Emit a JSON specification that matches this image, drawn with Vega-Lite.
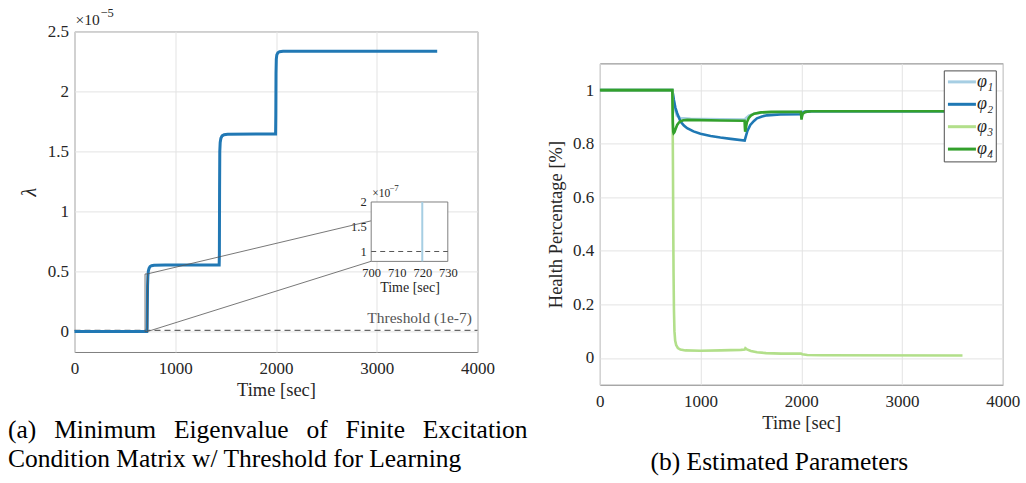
{
  "$schema": "https://vega.github.io/schema/vega-lite/v6.json",
  "padding": {"left": 7.5, "top": 6.4, "right": 0, "bottom": 0},
  "autosize": {"type": "pad"},
  "background": "white",
  "bounds": "flush",
  "spacing": 122.3,
  "resolve": {"legend": {"color": "independent"}},
  "datasets": {
    "lam": [
      {"t": 0, "v": 0}, {"t": 718, "v": 0}, {"t": 721, "v": 0.03}, {"t": 723, "v": 0.2}, {"t": 725, "v": 0.38},
      {"t": 728, "v": 0.46}, {"t": 733, "v": 0.505}, {"t": 740, "v": 0.527}, {"t": 750, "v": 0.542}, {"t": 765, "v": 0.549},
      {"t": 790, "v": 0.553}, {"t": 900, "v": 0.554}, {"t": 1436, "v": 0.555}, {"t": 1438, "v": 0.65}, {"t": 1440, "v": 1.2},
      {"t": 1442, "v": 1.5}, {"t": 1446, "v": 1.575}, {"t": 1453, "v": 1.61}, {"t": 1465, "v": 1.63}, {"t": 1485, "v": 1.64},
      {"t": 1520, "v": 1.644}, {"t": 1996, "v": 1.645}, {"t": 1998, "v": 1.8}, {"t": 2000, "v": 2.15}, {"t": 2003, "v": 2.27},
      {"t": 2008, "v": 2.305}, {"t": 2018, "v": 2.322}, {"t": 2035, "v": 2.33}, {"t": 2070, "v": 2.334}, {"t": 3600, "v": 2.334}
    ],
    "thr": [{"t": 0, "v": 0.01}, {"t": 4000, "v": 0.01}],
    "zbox": [{"t": 700, "t2": 725, "v": 0, "v2": 0.48}],
    "zlines": [{"t": 722, "v": 0.48, "t2": 2943, "v2": 0.922}, {"t": 722, "v": 0, "t2": 2943, "v2": 0.585}],
    "mtext": [{"t": 3944, "v": 0.072, "label": "Threshold (1e-7)"}],
    "mexp": [{"t": 0, "v": 2.5, "label": "×10", "sup": "−5"}],
    "ibox": [{"t": 700, "t2": 730, "v": 0.8, "v2": 2}],
    "ithr": [{"t": 700, "v": 1}, {"t": 730, "v": 1}],
    "ilam": [{"t": 720, "v": 0.8}, {"t": 720, "v": 2}],
    "iexp": [{"t": 700, "v": 2, "label": "×10", "sup": "−7"}],
    "phi": [
      {"t": 0, "s": "φ₁", "v": 1}, {"t": 720, "s": "φ₁", "v": 1}, {"t": 730, "s": "φ₁", "v": 0.97}, {"t": 745, "s": "φ₁", "v": 0.93},
      {"t": 765, "s": "φ₁", "v": 0.905}, {"t": 800, "s": "φ₁", "v": 0.896}, {"t": 900, "s": "φ₁", "v": 0.893}, {"t": 1200, "s": "φ₁", "v": 0.891},
      {"t": 1438, "s": "φ₁", "v": 0.89}, {"t": 1450, "s": "φ₁", "v": 0.895}, {"t": 1480, "s": "φ₁", "v": 0.905}, {"t": 1530, "s": "φ₁", "v": 0.912},
      {"t": 1600, "s": "φ₁", "v": 0.916}, {"t": 1800, "s": "φ₁", "v": 0.918}, {"t": 1998, "s": "φ₁", "v": 0.918}, {"t": 2040, "s": "φ₁", "v": 0.921},
      {"t": 3600, "s": "φ₁", "v": 0.921},
      {"t": 0, "s": "φ₂", "v": 1}, {"t": 720, "s": "φ₂", "v": 1}, {"t": 735, "s": "φ₂", "v": 0.964}, {"t": 750, "s": "φ₂", "v": 0.935},
      {"t": 768, "s": "φ₂", "v": 0.914}, {"t": 801, "s": "φ₂", "v": 0.883}, {"t": 835, "s": "φ₂", "v": 0.868}, {"t": 867, "s": "φ₂", "v": 0.858},
      {"t": 930, "s": "φ₂", "v": 0.846}, {"t": 999, "s": "φ₂", "v": 0.837}, {"t": 1100, "s": "φ₂", "v": 0.829}, {"t": 1197, "s": "φ₂", "v": 0.823},
      {"t": 1300, "s": "φ₂", "v": 0.818}, {"t": 1438, "s": "φ₂", "v": 0.812}, {"t": 1444, "s": "φ₂", "v": 0.82}, {"t": 1465, "s": "φ₂", "v": 0.848},
      {"t": 1494, "s": "φ₂", "v": 0.87}, {"t": 1530, "s": "φ₂", "v": 0.885}, {"t": 1560, "s": "φ₂", "v": 0.895}, {"t": 1610, "s": "φ₂", "v": 0.902},
      {"t": 1659, "s": "φ₂", "v": 0.906}, {"t": 1792, "s": "φ₂", "v": 0.909}, {"t": 1997, "s": "φ₂", "v": 0.91}, {"t": 2010, "s": "φ₂", "v": 0.915},
      {"t": 2040, "s": "φ₂", "v": 0.919}, {"t": 2100, "s": "φ₂", "v": 0.921}, {"t": 3600, "s": "φ₂", "v": 0.921},
      {"t": 0, "s": "φ₃", "v": 1}, {"t": 720, "s": "φ₃", "v": 1}, {"t": 723, "s": "φ₃", "v": 0.9}, {"t": 726, "s": "φ₃", "v": 0.72},
      {"t": 729, "s": "φ₃", "v": 0.5}, {"t": 732, "s": "φ₃", "v": 0.32}, {"t": 736, "s": "φ₃", "v": 0.18}, {"t": 741, "s": "φ₃", "v": 0.1},
      {"t": 748, "s": "φ₃", "v": 0.065}, {"t": 758, "s": "φ₃", "v": 0.048}, {"t": 775, "s": "φ₃", "v": 0.037}, {"t": 800, "s": "φ₃", "v": 0.031},
      {"t": 850, "s": "φ₃", "v": 0.028}, {"t": 1000, "s": "φ₃", "v": 0.027}, {"t": 1200, "s": "φ₃", "v": 0.028}, {"t": 1400, "s": "φ₃", "v": 0.03},
      {"t": 1438, "s": "φ₃", "v": 0.031}, {"t": 1445, "s": "φ₃", "v": 0.036}, {"t": 1460, "s": "φ₃", "v": 0.032}, {"t": 1500, "s": "φ₃", "v": 0.026},
      {"t": 1560, "s": "φ₃", "v": 0.021}, {"t": 1650, "s": "φ₃", "v": 0.018}, {"t": 1800, "s": "φ₃", "v": 0.016}, {"t": 1997, "s": "φ₃", "v": 0.016},
      {"t": 2010, "s": "φ₃", "v": 0.014}, {"t": 2060, "s": "φ₃", "v": 0.011}, {"t": 2200, "s": "φ₃", "v": 0.01}, {"t": 3600, "s": "φ₃", "v": 0.009},
      {"t": 0, "s": "φ₄", "v": 1}, {"t": 720, "s": "φ₄", "v": 1}, {"t": 722, "s": "φ₄", "v": 0.95}, {"t": 725, "s": "φ₄", "v": 0.88},
      {"t": 729, "s": "φ₄", "v": 0.845}, {"t": 733, "s": "φ₄", "v": 0.84}, {"t": 740, "s": "φ₄", "v": 0.843}, {"t": 755, "s": "φ₄", "v": 0.858},
      {"t": 768, "s": "φ₄", "v": 0.87}, {"t": 785, "s": "φ₄", "v": 0.879}, {"t": 801, "s": "φ₄", "v": 0.884}, {"t": 830, "s": "φ₄", "v": 0.888},
      {"t": 867, "s": "φ₄", "v": 0.889}, {"t": 1000, "s": "φ₄", "v": 0.888}, {"t": 1200, "s": "φ₄", "v": 0.887}, {"t": 1437, "s": "φ₄", "v": 0.886},
      {"t": 1440, "s": "φ₄", "v": 0.86}, {"t": 1443, "s": "φ₄", "v": 0.845}, {"t": 1447, "s": "φ₄", "v": 0.852}, {"t": 1460, "s": "φ₄", "v": 0.88},
      {"t": 1480, "s": "φ₄", "v": 0.897}, {"t": 1500, "s": "φ₄", "v": 0.905}, {"t": 1532, "s": "φ₄", "v": 0.912}, {"t": 1600, "s": "φ₄", "v": 0.917},
      {"t": 1700, "s": "φ₄", "v": 0.919}, {"t": 1995, "s": "φ₄", "v": 0.919}, {"t": 1999, "s": "φ₄", "v": 0.905}, {"t": 2002, "s": "φ₄", "v": 0.89},
      {"t": 2006, "s": "φ₄", "v": 0.9}, {"t": 2015, "s": "φ₄", "v": 0.912}, {"t": 2040, "s": "φ₄", "v": 0.919}, {"t": 2100, "s": "φ₄", "v": 0.921},
      {"t": 3600, "s": "φ₄", "v": 0.921}
    ]
  },
  "hconcat": [
    {
      "width": 403,
      "height": 320.6,
      "title": {
        "text": ["(a)\u2002\u2009Minimum\u2002\u2009Eigenvalue\u2002\u2009of\u2002\u2009Finite\u2002\u2009Excitation", "Condition Matrix w/ Threshold for Learning"],
        "orient": "bottom", "anchor": "start", "frame": "group", "dx": -66.5, "offset": 19,
        "font": "Liberation Serif", "fontSize": 25.5, "fontWeight": "normal", "color": "#000000", "lineHeight": 28.6
      },
      "layer": [
        {
          "encoding": {
            "x": {"field": "t", "type": "quantitative", "scale": {"domain": [0, 4000], "nice": false},
                  "axis": {"values": [0, 1000, 2000, 3000, 4000], "format": "d", "title": "Time [sec]", "labelPadding": 9, "titlePadding": 4}},
            "y": {"field": "v", "type": "quantitative", "scale": {"domain": [-0.17, 2.5], "nice": false, "zero": false},
                  "axis": {"values": [0, 0.5, 1, 1.5, 2, 2.5], "format": "~g", "title": "λ", "titleFontStyle": "italic", "titleFontSize": 20, "labelPadding": 6, "titlePadding": 8}}
          },
          "layer": [
            {"data": {"name": "thr"}, "mark": {"type": "line", "color": "#666666", "strokeWidth": 1.2, "strokeDash": [6, 4]}},
            {"data": {"name": "lam"}, "mark": {"type": "line", "color": "#2178b4", "strokeWidth": 3}},
            {"data": {"name": "zbox"}, "mark": {"type": "rect", "fillOpacity": 0, "stroke": "#555555", "strokeWidth": 0.8},
             "encoding": {"x2": {"field": "t2"}, "y2": {"field": "v2"}}},
            {"data": {"name": "zlines"}, "mark": {"type": "rule", "color": "#555555", "strokeWidth": 0.8},
             "encoding": {"x2": {"field": "t2"}, "y2": {"field": "v2"}}},
            {"data": {"name": "mtext"}, "mark": {"type": "text", "align": "right", "baseline": "alphabetic", "font": "Liberation Serif", "fontSize": 15.5, "color": "#555555"},
             "encoding": {"text": {"field": "label"}}},
            {"data": {"name": "mexp"}, "mark": {"type": "text", "align": "left", "baseline": "alphabetic", "font": "Liberation Serif", "fontSize": 15.5, "dx": 1, "dy": -6.7, "color": "#262626"},
             "encoding": {"text": {"field": "label"}}},
            {"data": {"name": "mexp"}, "mark": {"type": "text", "align": "left", "baseline": "alphabetic", "font": "Liberation Serif", "fontSize": 12.5, "dx": 26, "dy": -14, "color": "#262626"},
             "encoding": {"text": {"field": "sup"}}}
          ]
        },
        {
          "encoding": {
            "x": {"field": "t", "type": "quantitative", "scale": {"domain": [700, 730], "range": [296.7, 373.3], "nice": false},
                  "axis": {"orient": "bottom", "offset": -90.6, "values": [700, 710, 720, 730], "format": "d", "grid": false, "labelFontSize": 12.5, "labelPadding": 5, "title": "Time [sec]", "titleFontSize": 14, "titlePadding": 2}},
            "y": {"field": "v", "type": "quantitative", "scale": {"domain": [0.8, 2], "range": [230, 170.6], "nice": false, "zero": false},
                  "axis": {"orient": "left", "offset": -296.7, "values": [1, 1.5, 2], "format": "~g", "grid": false, "labelFontSize": 12.5, "labelPadding": 5, "title": null}}
          },
          "layer": [
            {"data": {"name": "ibox"}, "mark": {"type": "rect", "fill": "white", "stroke": "#7f7f7f", "strokeWidth": 1},
             "encoding": {"x2": {"field": "t2"}, "y2": {"field": "v2"}}},
            {"data": {"name": "ithr"}, "mark": {"type": "line", "color": "#555555", "strokeWidth": 1, "strokeDash": [5, 4]}},
            {"data": {"name": "ilam"}, "mark": {"type": "line", "color": "#a6cee3", "strokeWidth": 2}},
            {"data": {"name": "iexp"}, "mark": {"type": "text", "align": "left", "baseline": "alphabetic", "font": "Liberation Serif", "fontSize": 11.5, "dx": 1, "dy": -5, "color": "#262626"},
             "encoding": {"text": {"field": "label"}}},
            {"data": {"name": "iexp"}, "mark": {"type": "text", "align": "left", "baseline": "alphabetic", "font": "Liberation Serif", "fontSize": 9, "dx": 18, "dy": -10.5, "color": "#262626"},
             "encoding": {"text": {"field": "sup"}}}
          ]
        }
      ],
      "resolve": {"scale": {"x": "independent", "y": "independent"}, "axis": {"x": "independent", "y": "independent"}}
    },
    {
      "bounds": "flush",
      "spacing": 0,
      "resolve": {"legend": {"color": "independent"}},
      "vconcat": [
        {"width": 403, "height": 32, "data": {"values": []}, "mark": "point", "view": {"stroke": null}},
        {
          "width": 403,
          "height": 321.3,
          "title": {
            "text": "(b) Estimated Parameters",
            "orient": "bottom", "anchor": "middle", "frame": "group", "dx": -22, "offset": 18,
            "font": "Liberation Serif", "fontSize": 25.5, "fontWeight": "normal", "color": "#000000"
          },
          "data": {"name": "phi"},
          "mark": {"type": "line", "strokeWidth": 2.6, "clip": true},
          "encoding": {
            "x": {"field": "t", "type": "quantitative", "scale": {"domain": [0, 4000], "nice": false},
                  "axis": {"values": [0, 1000, 2000, 3000, 4000], "format": "d", "title": "Time [sec]", "labelPadding": 9, "titlePadding": 4}},
            "y": {"field": "v", "type": "quantitative", "scale": {"domain": [-0.1, 1.1], "nice": false, "zero": false},
                  "axis": {"values": [0, 0.2, 0.4, 0.6, 0.8, 1], "format": "~g", "title": "Health Percentage [%]", "labelPadding": 6, "titlePadding": 7}},
            "color": {"field": "s", "type": "nominal",
                      "scale": {"domain": ["φ₁", "φ₂", "φ₃", "φ₄"], "range": ["#a6cee3", "#1f78b4", "#b2df8a", "#33a02c"]},
                      "legend": {"title": null, "orient": "top-right", "offset": 7}}
          }
        }
      ]
    }
  ],
  "config": {
    "font": "Liberation Serif",
    "view": {"stroke": "#7f7f7f", "strokeWidth": 1},
    "axis": {
      "labelFont": "Liberation Serif", "labelFontSize": 17, "labelColor": "#262626",
      "titleFont": "Liberation Serif", "titleFontSize": 18.5, "titleFontWeight": "normal", "titleColor": "#262626",
      "gridColor": "#e3e3e3", "gridWidth": 1, "domain": false, "ticks": false, "labelFlush": false
    },
    "legend": {
      "fillColor": "white", "strokeColor": "#4d4d4d", "padding": 2.5,
      "symbolType": "M-2,0H2", "symbolSize": 196, "symbolStrokeWidth": 3, "symbolOffset": 6.65,
      "labelFont": "Liberation Serif", "labelFontSize": 18, "labelFontStyle": "italic", "labelColor": "#262626",
      "labelOffset": 6, "rowPadding": 4.4
    }
  }
}
